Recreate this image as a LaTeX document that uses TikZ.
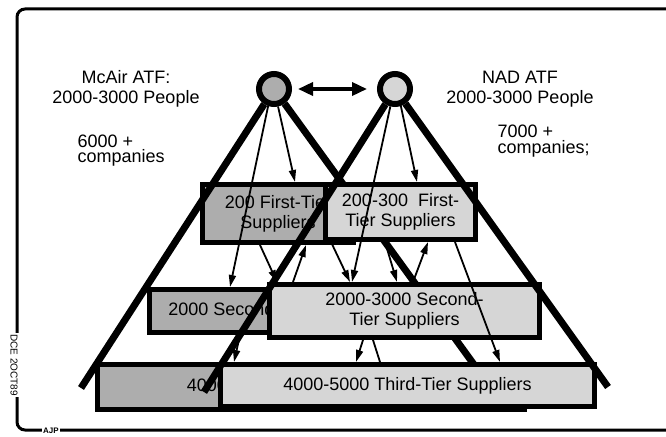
\documentclass[tikz,border=0pt]{standalone}
\usepackage{fontspec}
\setmainfont{Liberation Sans}
\usetikzlibrary{arrows.meta}
\definecolor{mcgray}{gray}{0.68}
\definecolor{nadgray}{gray}{0.84}
\begin{document}
\begin{tikzpicture}[x=1pt,y=-1pt,
  every node/.style={font=\fontsize{18}{20}\selectfont},
  tier/.style={draw,line width=5pt,inner sep=0pt,align=center},
  hub/.style={circle,draw,line width=6pt,minimum size=30pt,inner sep=0pt},
  leg/.style={line width=7pt},
  flow/.style={line width=1.8pt,-{Triangle[length=12pt,width=7pt]}},
  link/.style={line width=3.5pt,{Triangle[length=15pt,width=13pt]}-{Triangle[length=15pt,width=13pt]}},
  tag/.style={fill=white,inner sep=1pt,font=\fontsize{10}{10}\selectfont}]
\clip (0,0) rectangle (666,436);
\useasboundingbox (0,0) rectangle (666,436);
\draw[line width=3pt,rounded corners=8pt] (700,9) -- (17,9) -- (17,430) -- (700,430);
\node[tag,rotate=-90] (dce) at (14,365) {DCE 2OCT89};
\node[tag,font=\bfseries\fontsize{8}{8}\selectfont] (ajp) at (51,431) {AJP};
\node[hub,fill=mcgray] (mcA) at (274,89) {};
\node[hub,fill=nadgray] (nadA) at (395,89) {};
\coordinate (mcL) at (81,388);
\coordinate (mcR) at (491,388);
\coordinate (nadL) at (204,392);
\coordinate (nadR) at (608,387);
\draw[leg] (mcA) -- (mcR);
\node[tier,fill=mcgray,minimum width=151pt,minimum height=58pt] (mc1) at (278,213.5) {200 First-Tier\\Suppliers};
\node[tier,fill=nadgray,minimum width=150pt,minimum height=55pt] (nad1) at (400.5,212) {200-300\ \ First-\\Tier Suppliers};
\node[tier,fill=mcgray,minimum width=260pt,minimum height=43pt] (mc2) at (279.5,311) {2000 Second-Tier Suppliers};
\node[tier,fill=nadgray,minimum width=270pt,minimum height=53pt] (nad2) at (404.5,311) {2000-3000 Second-\\Tier Suppliers};
\node[tier,fill=mcgray,minimum width=427pt,minimum height=45pt] (mc3) at (311,387) {4000-5000 Third-Tier Suppliers};
\node[tier,fill=nadgray,minimum width=374pt,minimum height=42pt] (nad3) at (407.5,385.5) {4000-5000 Third-Tier Suppliers};
\draw[flow] (mcA.-109) -- (230,0 |- mc2.north);
\draw[flow] (mcA.-77) -- (295,0 |- mc1.north);
\draw[flow] (nadA.-105) -- (352,0 |- nad2.north);
\draw[flow] (nadA.-71) -- (417,0 |- nad1.north);
\draw[flow] (260,0 |- mc1.south) -- (277,0 |- nad2.north);
\draw[flow] (293,0 |- nad2.north) -- (306,0 |- mc1.south);
\draw[flow] (331,0 |- nad1.south) -- (350,0 |- nad2.north);
\draw[flow] (385,0 |- nad1.south) -- (397,0 |- nad2.north);
\draw[flow] (413,0 |- nad2.north) -- (428,0 |- nad1.south);
\draw[flow] (455,0 |- nad1.south) -- (500,0 |- nad3.north);
\draw[flow] (240,0 |- mc2.south) -- (234,0 |- mc3.north);
\draw[flow] (363,0 |- nad2.south) -- (356,0 |- nad3.north);
\draw[line width=1.8pt] (373,0 |- nad2.south) -- (380,0 |- nad3.north);
\draw[leg] (mcA) -- (mcL);
\draw[leg] (nadA) -- (nadL);
\draw[leg] (nadA) -- (nadR);
\draw[link,shorten <=6pt,shorten >=10pt] (mcA) -- (nadA);
\node[align=center] (mcT) at (126,88.5) {McAir ATF:\\2000-3000 People};
\node[align=center] (nadT) at (520,89.5) {NAD ATF\\2000-3000 People};
\node[align=left,anchor=west,font=\fontsize{18}{15.5}\selectfont] (mcN) at (74,150.5) {6000 +\\companies};
\node[align=left,anchor=west,font=\fontsize{18}{15.5}\selectfont] (nadN) at (494,141) {7000 +\\companies;};
\end{tikzpicture}
\end{document}
